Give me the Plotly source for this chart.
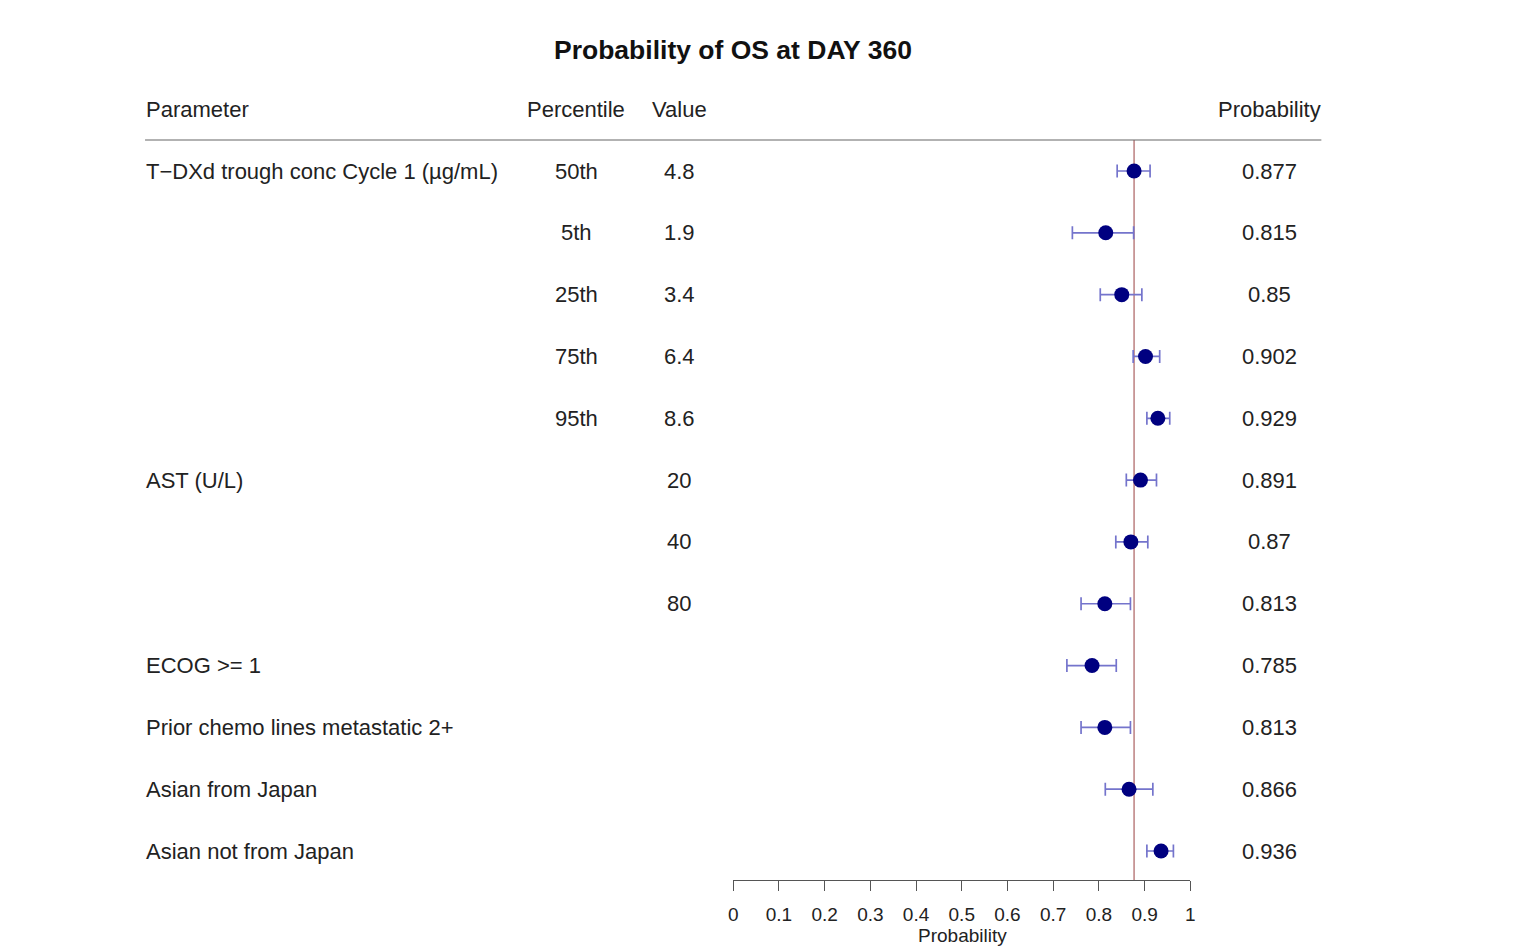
import plotly.graph_objects as go

# ---- data ----
parameters = ["T\u2212DXd trough conc Cycle 1 (\u00b5g/mL)", "", "", "", "",
              "AST (U/L)", "", "", "ECOG >= 1", "Prior chemo lines metastatic 2+",
              "Asian from Japan", "Asian not from Japan"]
percentiles = ["50th", "5th", "25th", "75th", "95th", "", "", "", "", "", "", ""]
values = ["4.8", "1.9", "3.4", "6.4", "8.6", "20", "40", "80", "", "", "", ""]
probability = [0.877, 0.815, 0.85, 0.902, 0.929, 0.891, 0.87, 0.813, 0.785, 0.813, 0.866, 0.936]
prob_labels = ["0.877", "0.815", "0.85", "0.902", "0.929", "0.891", "0.87", "0.813",
               "0.785", "0.813", "0.866", "0.936"]
ci_lower = [0.840, 0.742, 0.803, 0.875, 0.905, 0.860, 0.837, 0.761, 0.730, 0.761, 0.814, 0.905]
ci_upper = [0.912, 0.876, 0.894, 0.933, 0.955, 0.926, 0.907, 0.869, 0.838, 0.869, 0.918, 0.963]
reference = 0.877
x_ticks = [0, 0.1, 0.2, 0.3, 0.4, 0.5, 0.6, 0.7, 0.8, 0.9, 1]
tick_text = ["0", "0.1", "0.2", "0.3", "0.4", "0.5", "0.6", "0.7", "0.8", "0.9", "1"]

W, H = 1524, 947
FONT = "Arial, 'Liberation Sans', sans-serif"
rows = list(range(len(probability)))

# observed plot-area horizontal extent (pixels) used to convert layout positions
X0, XW = 5.0, 1513.6


def px(x):
    return (x - X0) / XW


def py(y):
    return 1 - y / H


fig = go.Figure()

fig.add_trace(go.Scatter(
    x=probability, y=rows, mode="markers",
    marker=dict(color="#000080", size=15, line=dict(width=0)),
    error_x=dict(type="data", symmetric=False,
                 array=[u - p for u, p in zip(ci_upper, probability)],
                 arrayminus=[p - l for p, l in zip(probability, ci_lower)],
                 color="#7474cc", thickness=1.7, width=6.5),
    showlegend=False, hoverinfo="skip",
))

# reference line
fig.add_shape(type="line", xref="x", yref="paper", x0=reference, x1=reference,
              y0=py(880), y1=py(140), line=dict(color="#c08888", width=1.6), layer="below")
# header rule
fig.add_shape(type="line", xref="paper", yref="paper", x0=px(145), x1=px(1321),
              y0=py(140), y1=py(140), line=dict(color="#666666", width=1.2))

ann = []
txt_color = "#222222"
fs = 22
# headers
for text, x, anchor in [("Parameter", 144, "left"), ("Percentile", 576, "center"),
                        ("Value", 679, "center"), ("Probability", 1269, "center")]:
    ann.append(dict(text=text, x=px(x), y=py(109), xref="paper", yref="paper",
                    xanchor=anchor, yanchor="middle", showarrow=False,
                    font=dict(size=fs, color=txt_color, family=FONT)))
for i in rows:
    for text, x, anchor in [(parameters[i], 144, "left"), (percentiles[i], 576, "center"),
                            (values[i], 679, "center"), (prob_labels[i], 1269, "center")]:
        if text:
            ann.append(dict(text=text, x=px(x), y=i, xref="paper", yref="y",
                            xanchor=anchor, yanchor="middle", showarrow=False,
                            font=dict(size=fs, color=txt_color, family=FONT)))
# title
ann.append(dict(text="<b>Probability of OS at DAY 360</b>", x=px(733), y=py(50),
                xref="paper", yref="paper", xanchor="center", yanchor="middle",
                showarrow=False, font=dict(size=26.5, color="#111111", family=FONT)))
# axis title
ann.append(dict(text="Probability", x=px(962), y=py(935), xref="paper", yref="paper",
                xanchor="center", yanchor="middle", showarrow=False,
                font=dict(size=19, color=txt_color, family=FONT)))

step = 61.82
fig.update_layout(
    width=W, height=H,
    margin=dict(l=0, r=0, t=0, b=0),
    paper_bgcolor="white", plot_bgcolor="white",
    annotations=ann,
    xaxis=dict(domain=[px(733), px(1190)], range=[0, 1], tickvals=x_ticks, ticktext=tick_text,
               showgrid=False, zeroline=False, showline=True, linecolor="#555555", linewidth=1.2,
               ticks="outside", ticklen=10, tickcolor="#555555", tickwidth=1.2,
               ticklabelstandoff=7,
               tickfont=dict(size=19, color=txt_color, family=FONT), anchor="free",
               position=py(880)),
    yaxis=dict(domain=[py(880), py(140)],
               range=[(880 - 171) / step, (140 - 171) / step],
               showgrid=False, zeroline=False, showline=False, showticklabels=False, ticks=""),
)

fig.write_html("out.html")
